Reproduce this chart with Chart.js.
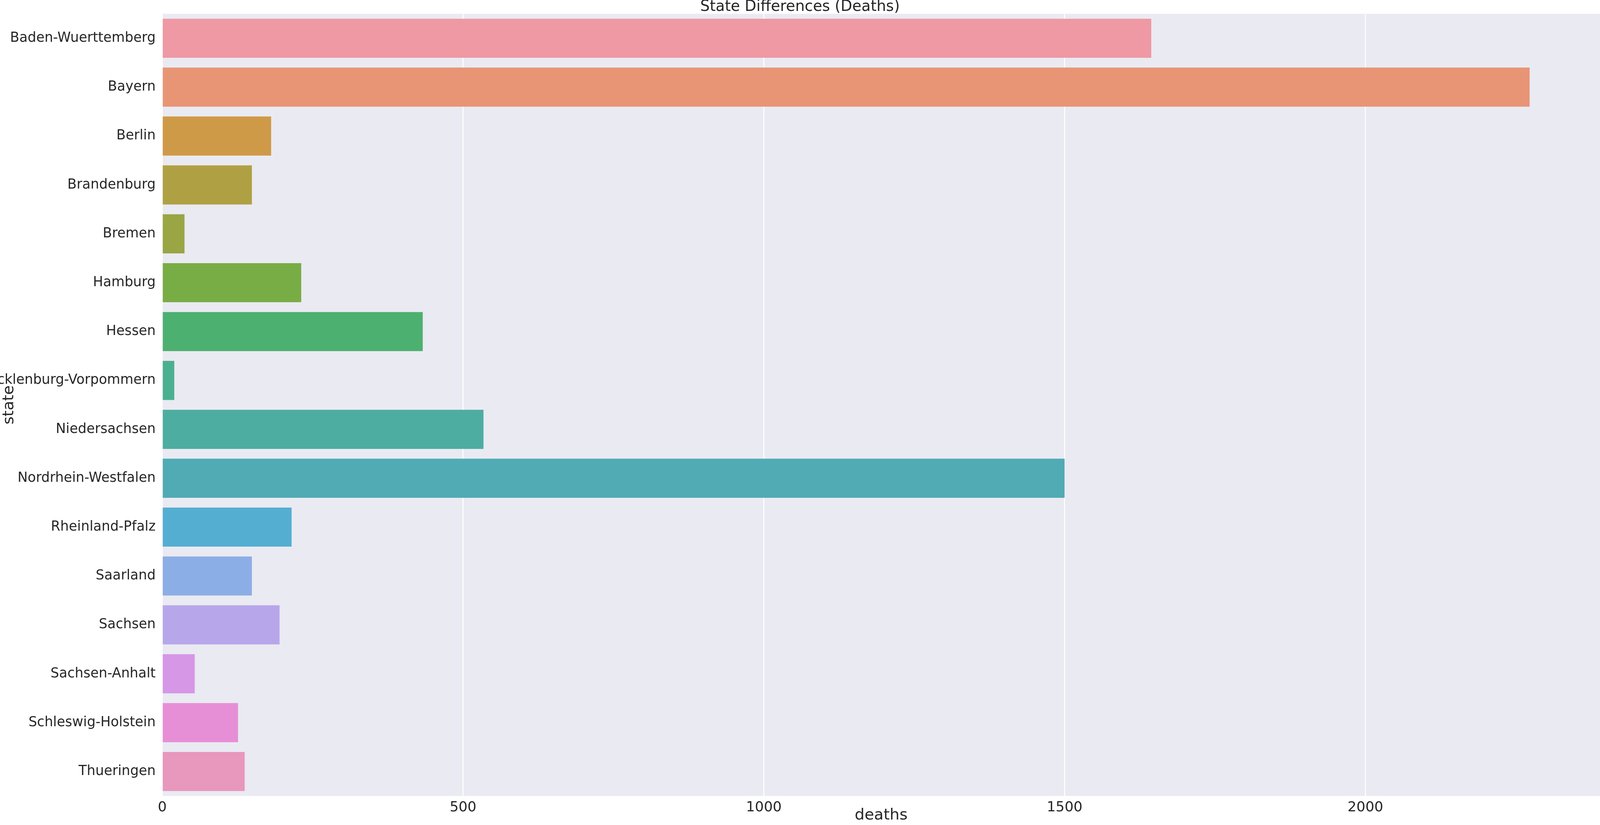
<!DOCTYPE html>
<html>
<head>
<meta charset="utf-8">
<script src="https://cdn.jsdelivr.net/npm/chart.js@4"></script>
<style>
  html, body { margin: 0; padding: 0; background: #fff; overflow: hidden; }
  canvas { display: block; }
</style>
</head>
<body>
<canvas id="chart"></canvas>
<script>
const states = ['Baden-Wuerttemberg', 'Bayern', 'Berlin', 'Brandenburg', 'Bremen', 'Hamburg', 'Hessen',
    'Mecklenburg-Vorpommern', 'Niedersachsen', 'Nordrhein-Westfalen', 'Rheinland-Pfalz', 'Saarland',
    'Sachsen', 'Sachsen-Anhalt', 'Schleswig-Holstein', 'Thueringen'];
const deaths = [1644, 2273, 181, 149, 37, 231, 433, 20, 534, 1500, 215, 149, 195, 54, 126, 137];
const barColors = ['#ee99a3', '#e89575', '#cf9a47', '#b0a044', '#9aa544', '#78ad45', '#4cb070', '#4bb08f',
    '#4dada0', '#50abb4', '#54aed2', '#8caee6', '#b7a7ea', '#d597e6', '#e78fd6', '#e897bd'];
const xTicks = [0, 500, 1000, 1500, 2000];

const font = 'DejaVu Sans';

// fit the canvas to the actual window and scale everything from the 6390-wide design
const W = window.innerWidth || 6390;
const H = window.innerHeight || 2113;
const k = W / 6390;
const canvas = document.getElementById('chart');
canvas.width = W;
canvas.height = H;
canvas.style.width = W + 'px';
canvas.style.height = H + 'px';

// grey plot background
const plotBg = {
    id: 'plotBg',
    beforeDraw(chart) {
        const { ctx, chartArea: a } = chart;
        ctx.save();
        ctx.fillStyle = '#eaeaf2';
        ctx.fillRect(a.left, a.top, a.right - a.left, a.bottom - a.top);
        ctx.restore();
    }
};

new Chart(canvas.getContext('2d'), {
    type: 'bar',
    data: {
        labels: states,
        datasets: [{
            data: deaths,
            backgroundColor: barColors,
            categoryPercentage: 0.8,
            barPercentage: 1.0
        }]
    },
    options: {
        indexAxis: 'y',
        responsive: false,
        devicePixelRatio: 1,
        animation: false,
        layout: { padding: 0 },
        scales: {
            x: {
                min: 0,
                max: 2390,
                afterBuildTicks: s => { s.ticks = xTicks.map(v => ({ value: v })); },
                afterFit: s => { s.height = 116 * k; },
                grid: { color: '#ffffff', lineWidth: 4 * k, drawTicks: false },
                border: { display: false },
                ticks: { color: '#262626', font: { family: font, size: 56 * k }, padding: 14 * k,
                    callback: v => String(v) },
                title: { display: true, text: 'deaths', color: '#262626', font: { family: font, size: 62 * k }, padding: 0 }
            },
            y: {
                afterFit: s => { s.width = 648 * k; },
                grid: { display: false },
                border: { display: false },
                ticks: { color: '#262626', font: { family: font, size: 54 * k }, padding: 14 * k },
                title: { display: true, text: 'state', color: '#262626', font: { family: font, size: 62 * k }, padding: 0 }
            }
        },
        plugins: {
            legend: { display: false },
            tooltip: { enabled: false },
            title: {
                display: true,
                text: 'State Differences (Deaths)',
                color: '#262626',
                font: { family: font, size: 60 * k, weight: 'normal', lineHeight: 0.92 },
                padding: 0
            }
        }
    },
    plugins: [plotBg]
});
</script>
</body>
</html>
